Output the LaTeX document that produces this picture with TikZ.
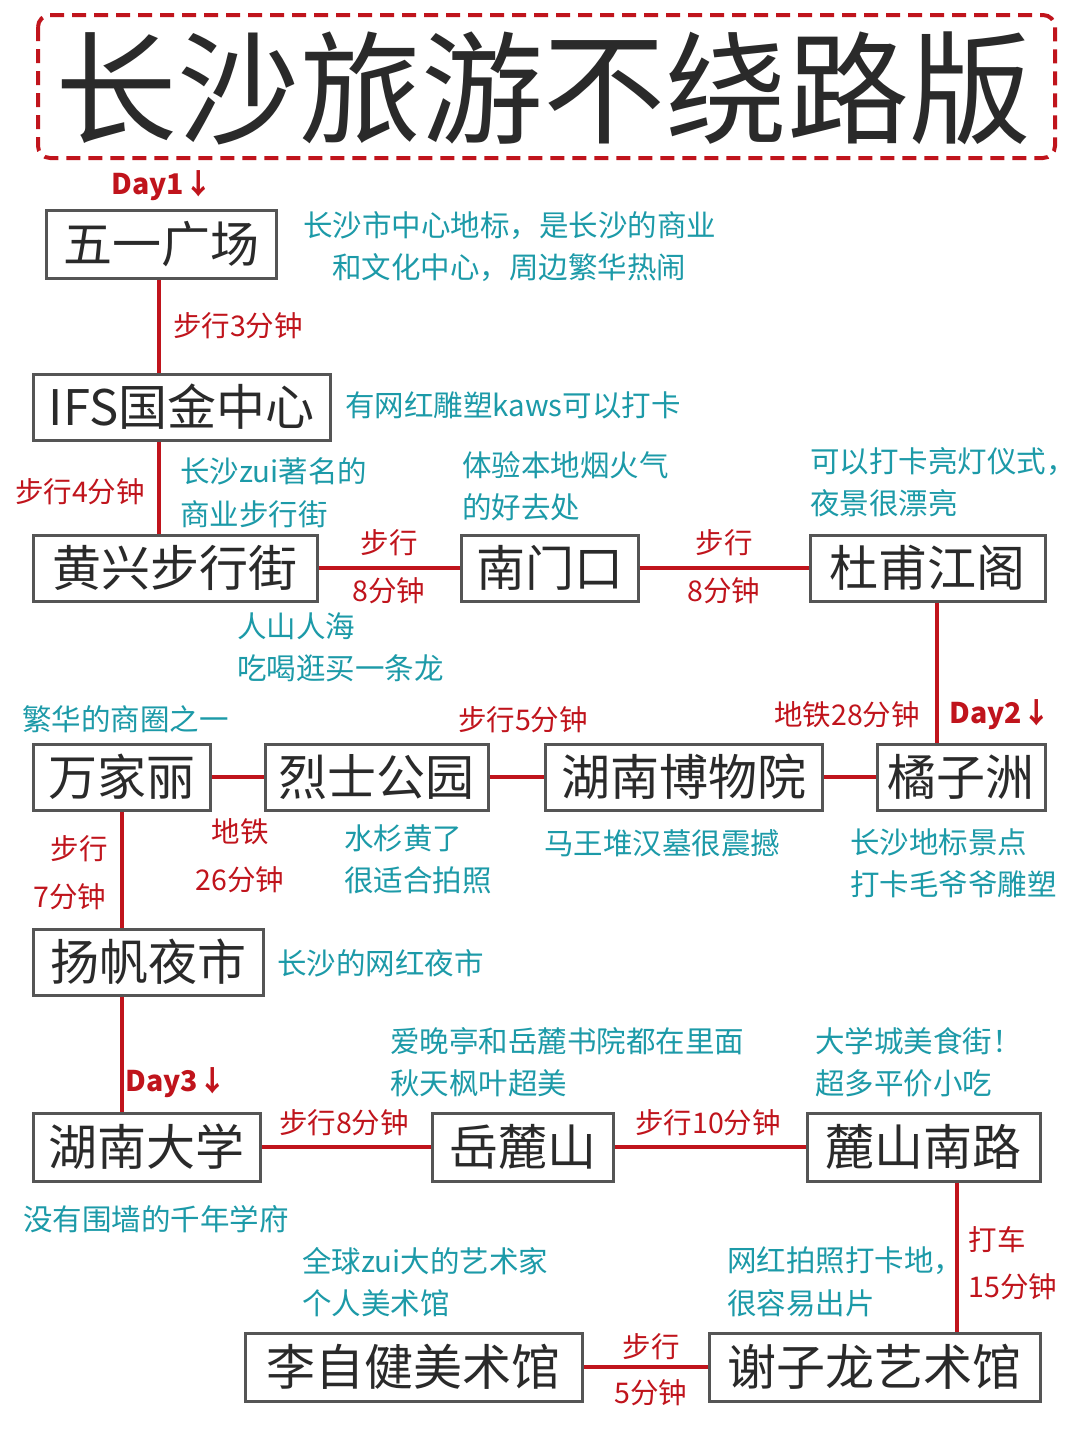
\documentclass[tikz,border=0pt]{standalone}
\usepackage{fontspec}
\setmainfont{Noto Sans CJK SC}
\definecolor{rd}{HTML}{C0141C}
\definecolor{tl}{HTML}{1C9AA8}
\definecolor{dk}{HTML}{2A2A2A}
\begin{document}
\begin{tikzpicture}[x=1pt,y=-1pt,
  bx/.style={draw=dk!80,line width=3pt,fill=white,text=dk,inner sep=0pt,font=\fontsize{49}{49}\selectfont},
  rl/.style={draw=rd,line width=4pt},
  rt/.style={text=rd,font=\fontsize{28.5}{30}\selectfont,inner sep=0pt},
  dt/.style={text=rd,font=\fontsize{28.5}{30}\selectfont\bfseries,inner sep=0pt},
  tt/.style={text=tl,font=\fontsize{29.5}{30}\selectfont,inner sep=0pt,anchor=west}]
\fill[white] (0,0) rectangle (1080,1440);
\useasboundingbox (0,0) rectangle (1080,1440);
\newcommand\bxx[6]{\node[bx,minimum width={#4-#2},minimum height={#5-#3}] (#1) at ({(#2+#4)/2},{(#3+#5)/2}) {#6};}
% title
\draw[rd,line width=4pt,dash pattern=on 14pt off 8pt,rounded corners=12pt] (38,15) rectangle (1055,158);
\node[text=dk,font=\fontsize{122}{122}\selectfont,inner sep=0pt] (title) at (543,88) {长沙旅游不绕路版};
\bxx{w1}{46}{210}{276}{278}{五一广场}
\bxx{ifs}{33}{374}{330}{440}{IFS国金中心}
\bxx{hx}{33}{535}{317}{601}{黄兴步行街}
\bxx{nm}{461}{535}{638}{601}{南门口}
\bxx{df}{810}{535}{1045}{601}{杜甫江阁}
\bxx{wj}{33}{744}{210}{810}{万家丽}
\bxx{ls}{265}{744}{488}{810}{烈士公园}
\bxx{bw}{545}{744}{822}{810}{湖南博物院}
\bxx{jz}{877}{744}{1045}{810}{橘子洲}
\bxx{yf}{33}{929}{263}{995}{扬帆夜市}
\bxx{hd}{33}{1113}{260}{1181}{湖南大学}
\bxx{yl}{432}{1113}{613}{1181}{岳麓山}
\bxx{ln}{807}{1113}{1040}{1181}{麓山南路}
\bxx{lz}{245}{1333}{582}{1401}{李自健美术馆}
\bxx{xz}{709}{1333}{1040}{1401}{谢子龙艺术馆}
\draw[rl] (w1.south -| 159,0) -- (ifs.north -| 159,0);
\draw[rl] (ifs.south -| 159,0) -- (hx.north -| 159,0);
\draw[rl] (hx.east) -- (nm.west);
\draw[rl] (nm.east) -- (df.west);
\draw[rl] (df.south -| 937,0) -- (jz.north -| 937,0);
\draw[rl] (wj.east) -- (ls.west);
\draw[rl] (ls.east) -- (bw.west);
\draw[rl] (bw.east) -- (jz.west);
\draw[rl] (wj.south -| 122,0) -- (yf.north -| 122,0);
\draw[rl] (yf.south -| 122,0) -- (hd.north -| 122,0);
\draw[rl] (hd.east) -- (yl.west);
\draw[rl] (yl.east) -- (ln.west);
\draw[rl] (ln.south -| 957,0) -- (xz.north -| 957,0);
\draw[rl] (lz.east) -- (xz.west);
% red labels
\node[dt] (d1) at (162,186) {Day1↓};
\node[dt] (d2) at (1000,715) {Day2↓};
\node[dt] (d3) at (176,1083) {Day3↓};
\node[rt] (r1) at (238,326) {步行3分钟};
\node[rt] (r2) at (80,492) {步行4分钟};
\node[rt] (r3) at (389,543) {步行};
\node[rt] (r4) at (389,591) {8分钟};
\node[rt] (r5) at (724,543) {步行};
\node[rt] (r6) at (724,591) {8分钟};
\node[rt] (r7) at (847,715) {地铁28分钟};
\node[rt] (r8) at (523,720) {步行5分钟};
\node[rt] (r9) at (240,832) {地铁};
\node[rt] (r10) at (240,880) {26分钟};
\node[rt] (r11) at (79,849) {步行};
\node[rt] (r12) at (70,897) {7分钟};
\node[rt] (r13) at (344,1123) {步行8分钟};
\node[rt] (r14) at (708,1123) {步行10分钟};
\node[rt] (r15) at (997,1240) {打车};
\node[rt] (r16) at (1013,1287) {15分钟};
\node[rt] (r17) at (651,1347) {步行};
\node[rt] (r18) at (651,1393) {5分钟};
% teal notes
\node[tt] (t1) at (303,226) {长沙市中心地标，是长沙的商业};
\node[tt] (t2) at (332,268) {和文化中心，周边繁华热闹};
\node[tt] (t3) at (345,405) {有网红雕塑kaws可以打卡};
\node[tt] (t4) at (180,471) {长沙zui著名的};
\node[tt] (t5) at (180,514) {商业步行街};
\node[tt] (t6) at (462,465) {体验本地烟火气};
\node[tt] (t7) at (462,507) {的好去处};
\node[tt] (t8) at (810,462) {可以打卡亮灯仪式，};
\node[tt] (t9) at (810,503) {夜景很漂亮};
\node[tt] (t10) at (237,626) {人山人海};
\node[tt] (t11) at (237,668) {吃喝逛买一条龙};
\node[tt] (t12) at (22,719) {繁华的商圈之一};
\node[tt] (t13) at (344,838) {水杉黄了};
\node[tt] (t14) at (344,880) {很适合拍照};
\node[tt] (t15) at (544,843) {马王堆汉墓很震撼};
\node[tt] (t16) at (850,842) {长沙地标景点};
\node[tt] (t17) at (850,884) {打卡毛爷爷雕塑};
\node[tt] (t18) at (277,963) {长沙的网红夜市};
\node[tt] (t19) at (390,1041) {爱晚亭和岳麓书院都在里面};
\node[tt] (t20) at (390,1083) {秋天枫叶超美};
\node[tt] (t21) at (815,1041) {大学城美食街！};
\node[tt] (t22) at (815,1083) {超多平价小吃};
\node[tt] (t23) at (23,1219) {没有围墙的千年学府};
\node[tt] (t24) at (302,1261) {全球zui大的艺术家};
\node[tt] (t25) at (302,1303) {个人美术馆};
\node[tt] (t26) at (727,1261) {网红拍照打卡地，};
\node[tt] (t27) at (727,1303) {很容易出片};
\end{tikzpicture}
\end{document}
